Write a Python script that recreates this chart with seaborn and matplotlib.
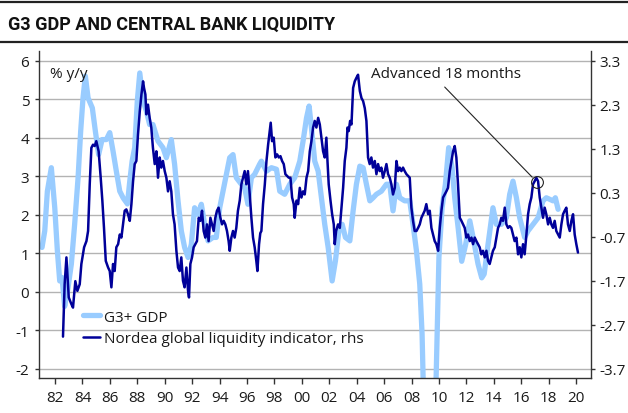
import matplotlib
matplotlib.use("Agg")
import matplotlib.pyplot as plt
import seaborn as sns
import pandas as pd
from matplotlib.lines import Line2D

# ---------------- data ----------------
gdp_years = [1981.05, 1981.25, 1981.44, 1981.73, 1981.98, 1982.17, 1982.34, 1982.51, 1982.70, 1982.95,
             1983.19, 1983.43, 1983.68, 1983.87, 1984.04, 1984.21, 1984.41, 1984.72, 1984.94, 1985.18,
             1985.43, 1985.74, 1985.99, 1986.23, 1986.47, 1986.72, 1986.96, 1987.28, 1987.45, 1987.62,
             1987.81, 1988.00, 1988.18, 1988.42, 1988.66, 1988.90, 1989.14, 1989.51, 1989.87, 1990.12,
             1990.48, 1990.72, 1990.97, 1991.21, 1991.45, 1991.70, 1991.94, 1992.18, 1992.43, 1992.67,
             1992.91, 1993.16, 1993.52, 1993.76, 1994.01, 1994.25, 1994.49, 1994.74, 1994.98, 1995.22,
             1995.59, 1995.83, 1996.07, 1996.32, 1996.56, 1996.92, 1997.05, 1997.42, 1997.78, 1998.15,
             1998.39, 1998.75, 1999.12, 1999.48, 1999.85, 2000.09, 2000.34, 2000.53, 2000.70, 2000.94,
             2001.19, 2001.43, 2001.67, 2001.92, 2002.21, 2002.45, 2002.70, 2002.94, 2003.18, 2003.50,
             2003.74, 2003.98, 2004.23, 2004.47, 2004.71, 2004.96, 2005.20, 2005.44, 2005.80, 2006.17,
             2006.41, 2006.65, 2006.90, 2007.14, 2007.50, 2007.87, 2008.11, 2008.36, 2008.60, 2008.77,
             2009.00, 2009.25, 2009.50, 2009.75, 2010.00, 2010.23, 2010.47, 2010.71, 2010.96, 2011.15,
             2011.40, 2011.66, 2011.95, 2012.25, 2012.49, 2012.85, 2013.12, 2013.30, 2013.58, 2013.94,
             2014.19, 2014.55, 2014.92, 2015.16, 2015.40, 2015.65, 2015.89, 2016.25, 2016.50, 2016.86,
             2017.23, 2017.59, 2017.83, 2018.08, 2018.32, 2018.49, 2018.69]
gdp_values = [1.15, 1.58, 2.61, 3.22, 2.18, 1.06, 0.28, 0.37, -0.38, 0.11,
              0.72, 1.75, 2.96, 4.17, 5.03, 5.60, 5.03, 4.77, 4.17, 3.56,
              3.95, 3.95, 4.13, 3.65, 3.13, 2.61, 2.44, 2.28, 2.87, 3.39,
              3.74, 4.95, 5.68, 4.95, 4.69, 4.34, 4.34, 3.91, 3.74, 3.48,
              3.95, 3.31, 2.36, 1.58, 1.15, 0.89, 1.23, 2.18, 2.01, 2.27,
              1.75, 1.32, 1.41, 1.41, 2.18, 2.61, 3.05, 3.48, 3.56, 2.96,
              2.79, 2.70, 2.27, 2.96, 3.05, 3.31, 3.39, 3.13, 3.22, 3.18,
              2.61, 2.53, 2.79, 2.96, 3.39, 3.91, 4.51, 4.82, 4.26, 3.39,
              3.13, 2.44, 1.75, 1.15, 0.28, 0.80, 1.58, 1.75, 1.41, 1.32,
              2.10, 2.79, 3.26, 3.22, 2.79, 2.36, 2.44, 2.53, 2.61, 2.79,
              2.79, 2.10, 2.79, 2.44, 2.36, 2.36, 1.75, 1.06, 0.20, -1.10,
              -4.60, -5.20, -4.40, -2.90, 0.90, 2.18, 2.79, 3.74, 3.22, 2.44,
              1.66, 0.79, 1.23, 1.84, 1.41, 0.72, 0.36, 0.46, 1.23, 2.18,
              1.75, 1.75, 1.92, 2.53, 2.87, 2.44, 1.92, 1.41, 1.58, 1.75,
              1.92, 2.36, 2.44, 2.40, 2.36, 2.44, 2.14]

liq_years = [1982.58, 1982.70, 1982.83, 1983.00, 1983.19, 1983.31, 1983.48, 1983.63, 1983.80, 1983.92,
             1984.12, 1984.29, 1984.41, 1984.53, 1984.65, 1984.77, 1984.89, 1985.01, 1985.18, 1985.33,
             1985.45, 1985.57, 1985.70, 1985.87, 1985.99, 1986.11, 1986.23, 1986.35, 1986.47, 1986.60,
             1986.72, 1986.84, 1986.96, 1987.08, 1987.20, 1987.32, 1987.45, 1987.57, 1987.69, 1987.81,
             1987.93, 1988.05, 1988.18, 1988.30, 1988.42, 1988.49, 1988.59, 1988.66, 1988.78, 1988.90,
             1989.02, 1989.14, 1989.27, 1989.39, 1989.51, 1989.63, 1989.75, 1989.87, 1990.00, 1990.12,
             1990.24, 1990.36, 1990.48, 1990.60, 1990.72, 1990.85, 1990.97, 1991.09, 1991.21, 1991.33,
             1991.45, 1991.58, 1991.70, 1991.77, 1991.87, 1991.99, 1992.11, 1992.23, 1992.35, 1992.48,
             1992.60, 1992.72, 1992.84, 1992.96, 1993.08, 1993.20, 1993.33, 1993.45, 1993.57, 1993.69,
             1993.81, 1993.93, 1994.06, 1994.18, 1994.30, 1994.42, 1994.54, 1994.66, 1994.74, 1994.86,
             1994.98, 1995.10, 1995.22, 1995.34, 1995.47, 1995.59, 1995.71, 1995.83, 1995.95, 1996.07,
             1996.20, 1996.32, 1996.44, 1996.56, 1996.68, 1996.76, 1996.88, 1996.97, 1997.05, 1997.17,
             1997.30, 1997.42, 1997.54, 1997.66, 1997.73, 1997.83, 1997.95, 1998.07, 1998.20, 1998.32,
             1998.44, 1998.56, 1998.68, 1998.80, 1998.93, 1999.05, 1999.17, 1999.29, 1999.41, 1999.48,
             1999.61, 1999.73, 1999.85, 1999.97, 2000.09, 2000.21, 2000.34, 2000.46, 2000.58, 2000.70,
             2000.82, 2000.94, 2001.06, 2001.19, 2001.31, 2001.43, 2001.55, 2001.67, 2001.79, 2001.87,
             2001.96, 2002.09, 2002.21, 2002.33, 2002.40, 2002.50, 2002.64, 2002.77, 2002.89, 2003.01,
             2003.13, 2003.25, 2003.33, 2003.42, 2003.52, 2003.62, 2003.74, 2003.86, 2003.98, 2004.10,
             2004.23, 2004.35, 2004.47, 2004.59, 2004.71, 2004.83, 2004.95, 2005.07, 2005.19, 2005.32,
             2005.44, 2005.56, 2005.68, 2005.80, 2005.92, 2006.05, 2006.17, 2006.29, 2006.41, 2006.53,
             2006.65, 2006.78, 2006.90, 2007.02, 2007.14, 2007.26, 2007.38, 2007.50, 2007.63, 2007.75,
             2007.87, 2007.99, 2008.11, 2008.23, 2008.36, 2008.48, 2008.60, 2008.72, 2008.84, 2008.96,
             2009.08, 2009.21, 2009.33, 2009.45, 2009.57, 2009.69, 2009.81, 2009.94, 2010.06, 2010.18,
             2010.30, 2010.42, 2010.54, 2010.66, 2010.79, 2010.91, 2011.03, 2011.15, 2011.27, 2011.39,
             2011.52, 2011.64, 2011.76, 2011.88, 2012.00, 2012.12, 2012.25, 2012.37, 2012.49, 2012.61,
             2012.73, 2012.85, 2012.97, 2013.09, 2013.21, 2013.34, 2013.46, 2013.58, 2013.70, 2013.82,
             2013.94, 2014.07, 2014.19, 2014.31, 2014.43, 2014.55, 2014.67, 2014.80, 2014.92, 2015.04,
             2015.16, 2015.28, 2015.40, 2015.52, 2015.65, 2015.77, 2015.89, 2016.01, 2016.13, 2016.25,
             2016.38, 2016.50, 2016.62, 2016.74, 2016.86, 2016.98, 2017.10, 2017.23, 2017.35, 2017.47,
             2017.59, 2017.71, 2017.83, 2017.96, 2018.08, 2018.20, 2018.32, 2018.44, 2018.56, 2018.69,
             2018.81, 2018.93, 2019.05, 2019.17, 2019.29, 2019.41, 2019.54, 2019.66, 2019.78, 2019.90,
             2020.02, 2020.14]
liq_values = [-2.97, -1.78, -1.17, -2.08, -2.23, -2.31, -1.71, -1.93, -1.78, -1.32,
              -0.94, -0.80, -0.57, 0.49, 1.32, 1.39, 1.36, 1.47, 1.24, 0.64,
              0.12, -0.50, -1.25, -1.40, -1.48, -1.85, -1.32, -1.48, -0.94, -0.87,
              -0.65, -0.72, -0.42, -0.11, -0.08, -0.19, -0.34, 0.04, 0.56, 0.95,
              1.02, 1.62, 2.15, 2.53, 2.83, 2.68, 2.53, 2.08, 2.30, 2.00,
              1.78, 1.32, 0.95, 1.24, 0.64, 1.10, 0.87, 1.02, 0.79, 0.64,
              0.33, 0.56, 0.33, -0.19, -0.42, -1.02, -1.40, -1.48, -1.17, -1.70,
              -1.85, -1.40, -1.93, -2.08, -1.32, -1.17, -0.94, -0.87, -0.80, -0.27,
              -0.34, -0.11, -0.57, -0.72, -0.42, -0.80, -0.27, -0.42, -0.57, -0.27,
              -0.11, -0.04, -0.27, -0.42, -0.34, -0.42, -0.57, -0.80, -1.02, -0.72,
              -0.57, -0.72, -0.50, -0.11, 0.12, 0.49, 0.64, 0.79, 0.49, 0.79,
              0.26, -0.27, -0.72, -0.94, -1.25, -1.48, -0.87, -0.62, -0.57, 0.04,
              0.49, 1.02, 1.39, 1.70, 1.89, 1.47, 1.55, 1.10, 1.17, 1.10,
              1.13, 1.02, 0.95, 0.72, 0.68, 0.64, 0.64, 0.19, 0.04, -0.27,
              0.12, 0.04, 0.41, 0.19, 0.33, 0.26, 0.64, 0.79, 1.24, 1.47,
              1.78, 1.93, 1.78, 2.00, 1.85, 1.55, 1.24, 1.10, 1.55, 1.02,
              0.49, 0.12, -0.19, -0.42, -0.87, -0.57, -0.42, -0.50, -0.04, 0.41,
              1.02, 1.32, 1.78, 1.70, 1.93, 1.85, 2.68, 2.83, 2.91, 2.98,
              2.61, 2.45, 2.38, 2.22, 1.93, 1.10, 0.95, 1.10, 0.87, 1.02,
              0.72, 0.95, 0.79, 0.87, 0.64, 0.79, 0.95, 0.72, 0.64, 0.49,
              0.26, 0.41, 1.02, 0.79, 0.87, 0.79, 0.87, 0.79, 0.72, 0.68,
              0.64, -0.04, -0.34, -0.57, -0.57, -0.50, -0.42, -0.27, -0.19, -0.11,
              0.04, -0.19, -0.11, -0.50, -0.65, -0.80, -0.87, -1.02, -0.50, -0.11,
              0.19, 0.26, 0.33, 0.41, 0.79, 1.02, 1.24, 1.36, 1.10, 0.49,
              -0.27, -0.34, -0.42, -0.50, -0.72, -0.65, -0.80, -0.72, -0.87, -0.72,
              -0.80, -0.87, -0.94, -1.10, -1.02, -1.17, -1.02, -1.25, -1.32, -1.17,
              -1.02, -0.94, -0.72, -0.50, -0.42, -0.27, -0.34, -0.04, -0.42, -0.50,
              -0.46, -0.50, -0.65, -0.80, -0.72, -1.10, -0.94, -1.17, -0.87, -1.10,
              -0.65, -0.19, 0.04, 0.19, 0.49, 0.56, 0.64, 0.56, 0.19, -0.04,
              -0.27, -0.04, -0.19, -0.42, -0.27, -0.42, -0.50, -0.34, -0.57, -0.65,
              -0.72, -0.42, -0.19, -0.11, -0.04, -0.42, -0.57, -0.34, -0.19, -0.65,
              -0.87, -1.06]

x_ticks = [1982, 1984, 1986, 1988, 1990, 1992, 1994, 1996, 1998, 2000,
           2002, 2004, 2006, 2008, 2010, 2012, 2014, 2016, 2018, 2020]
x_tick_labels = ["82", "84", "86", "88", "90", "92", "94", "96", "98", "00",
                 "02", "04", "06", "08", "10", "12", "14", "16", "18", "20"]
left_ticks = [6, 5, 4, 3, 2, 1, 0, -1, -2]
left_tick_labels = ["6", "5", "4", "3", "2", "1", "0", "-1", "-2"]
right_ticks = [3.3, 2.3, 1.3, 0.3, -0.7, -1.7, -2.7, -3.7]
right_tick_labels = ["3.3", "2.3", "1.3", "0.3", "-0.7", "-1.7", "-2.7", "-3.7"]

series_labels = ["G3+ GDP", "Nordea global liquidity indicator, rhs"]
title_text = "G3 GDP AND CENTRAL BANK LIQUIDITY"
unit_text = "% y/y"
annot_text = "Advanced 18 months"
annot_year, annot_value = 2017.12, 0.55

# ---------------- style ----------------
LIGHT = "#99ccff"
NAVY = "#000099"
TXT = "#1a1a1a"

sns.set_style("white")
plt.rcParams["font.family"] = ["Open Sans", "DejaVu Sans"]
plt.rcParams["font.size"] = 11

W, H = 628, 414
fig = plt.figure(figsize=(W / 100, H / 100), dpi=100)
fig.patch.set_facecolor("white")

ax = fig.add_axes([39 / W, 1 - 379 / H, 552 / W, 327 / H])
ax2 = ax.twinx()

gdp_df = pd.DataFrame({"year": gdp_years, "value": gdp_values})
liq_df = pd.DataFrame({"year": liq_years, "value": liq_values})

sns.lineplot(data=gdp_df, x="year", y="value", ax=ax, color=LIGHT,
             linewidth=3.8, sort=False)
sns.lineplot(data=liq_df, x="year", y="value", ax=ax2, color=NAVY,
             linewidth=1.8, sort=False)

ax.set_xlim(1980.83, 2021.09)
ax.set_ylim(-2.24, 6.25)
ax2.set_ylim(-2.24 * 0.875 - 1.95, 6.25 * 0.875 - 1.95)

for a in (ax, ax2):
    a.set_xlabel("")
    a.set_ylabel("")

ax.set_xticks(x_ticks, labels=x_tick_labels)
ax.set_yticks(left_ticks, labels=left_tick_labels)
ax2.set_yticks(right_ticks, labels=right_tick_labels)

ax.set_axisbelow(True)
ax.yaxis.grid(True, color="#b3b3b3", linewidth=1.0)
ax.xaxis.grid(False)

for s in ("top", "right"):
    ax.spines[s].set_visible(False)
for s in ("top", "left", "bottom"):
    ax2.spines[s].set_visible(False)
for sp in (ax.spines["left"], ax.spines["bottom"], ax2.spines["right"]):
    sp.set_color("#333333")
    sp.set_linewidth(1.0)

ax.tick_params(axis="x", length=4, width=1, color="#333333", labelsize=11,
               labelcolor=TXT, pad=5, bottom=True)
ax.tick_params(axis="y", length=3, width=1, color="#333333", labelsize=11,
               labelcolor=TXT, pad=4, left=True)
ax2.tick_params(axis="y", length=3, width=1, color="#333333", labelsize=11,
                labelcolor=TXT, pad=3, right=True)

# unit label
ax.text((50 - 39) / 552, (379 - 74) / 327, unit_text, transform=ax.transAxes,
        ha="left", va="center", fontsize=11, color=TXT)

# annotation
ax2.plot([annot_year], [annot_value], marker="o", markersize=8.5,
         markerfacecolor="none", markeredgecolor="#222222", markeredgewidth=0.8)
ax2.annotate("", xy=(annot_year, annot_value), xytext=(2010.42, 2.70),
             arrowprops=dict(arrowstyle="-", color="#222222", lw=0.8,
                             shrinkA=0, shrinkB=4.5))
ax2.text(2005.03, 3.0, annot_text, ha="left", va="center", fontsize=11, color=TXT)

# legend
handles = [Line2D([], [], color=LIGHT, linewidth=3.8),
           Line2D([], [], color=NAVY, linewidth=1.8)]
ax2.legend(handles, series_labels, loc="center left",
           bbox_to_anchor=((83 - 39) / 552, (379 - 329) / 327),
           frameon=False, handlelength=1.1, handletextpad=0.28,
           borderpad=0, borderaxespad=0, labelspacing=0.45, fontsize=11,
           labelcolor=TXT)

# title and rules
fig.text(8 / W, 1 - 24.5 / H, title_text, ha="left", va="center",
         fontsize=13, fontweight="bold", color="#111111",
         family=["Roboto", "Liberation Sans", "DejaVu Sans"])
fig.add_artist(Line2D([0, 1], [1 - 3 / H, 1 - 3 / H], transform=fig.transFigure,
                      color="#222222", linewidth=1.6))
fig.add_artist(Line2D([0, 1], [1 - 43 / H, 1 - 43 / H], transform=fig.transFigure,
                      color="#222222", linewidth=1.6))

fig.savefig("out.png", dpi=100, facecolor="white")
